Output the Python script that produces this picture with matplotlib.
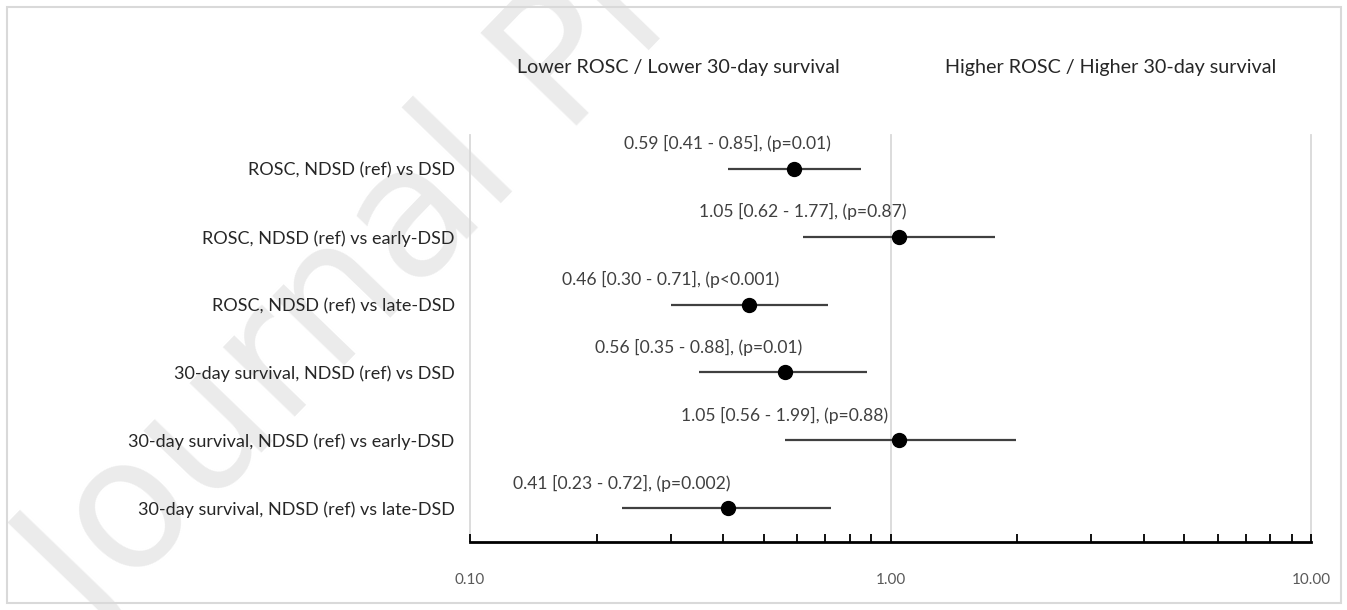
import matplotlib
matplotlib.use('Agg')
import matplotlib.pyplot as plt
from matplotlib.patches import Rectangle

plt.rcParams['font.family'] = ['Lato', 'DejaVu Sans']

# forest plot data (odds ratios with 95% CI)
labels = ["ROSC, NDSD (ref) vs DSD",
          "ROSC, NDSD (ref) vs early-DSD",
          "ROSC, NDSD (ref) vs late-DSD",
          "30-day survival, NDSD (ref) vs DSD",
          "30-day survival, NDSD (ref) vs early-DSD",
          "30-day survival, NDSD (ref) vs late-DSD"]
odds = [0.59, 1.05, 0.46, 0.56, 1.05, 0.41]
lower = [0.41, 0.62, 0.30, 0.35, 0.56, 0.23]
upper = [0.85, 1.77, 0.71, 0.88, 1.99, 0.72]
pvals = ["p=0.01", "p=0.87", "p<0.001", "p=0.01", "p=0.88", "p=0.002"]
xticks = [0.1, 1, 10]
xticklabels = ["0.10", "1.00", "10.00"]

fig = plt.figure(figsize=(13.47, 6.1), dpi=100)
fig.patch.set_facecolor('white')

# watermark, behind everything
fig.text(0.07, -0.04, "Journal Pre-proof", fontsize=130, color='#ebebeb',
         rotation=46, rotation_mode='anchor', ha='left', va='baseline',
         family='DejaVu Sans', zorder=-5)

# frame round the figure
fig.patches.append(Rectangle((7 / 1347, 7 / 610), 1334 / 1347, 596 / 610,
                             transform=fig.transFigure, fill=False,
                             edgecolor='#d9d9d9', linewidth=1.5, zorder=-4))

ax = fig.add_axes([470 / 1347, 1 - 542 / 610, 841 / 1347, 407 / 610])
ax.set_facecolor('none')
ax.set_xscale('log')
ax.set_xlim(0.1, 10)
ax.set_ylim(6.5, 0.5)

ypos = list(range(1, len(labels) + 1))
for xv in xticks:
    ax.axvline(xv, color='#d9d9d9', linewidth=1.3, zorder=1, clip_on=False)

for i in range(len(labels)):
    ax.plot([lower[i], upper[i]], [ypos[i], ypos[i]], color='#404040',
            linewidth=1.6, zorder=2, solid_capstyle='butt')
    ax.plot(odds[i], ypos[i], 'o', color='black', markersize=10, zorder=3)
    txt = "%.2f [%.2f - %.2f], (%s)" % (odds[i], lower[i], upper[i], pvals[i])
    ax.annotate(txt, (lower[i], ypos[i]), xytext=(0, 18),
                textcoords='offset points', ha='center', va='center',
                fontsize=12.6, color='#404040')

for s in ['top', 'left', 'right']:
    ax.spines[s].set_visible(False)
ax.spines['bottom'].set_linewidth(2)
ax.spines['bottom'].set_color('black')

ax.set_xticks(xticks)
ax.set_xticklabels(xticklabels)
ax.tick_params(axis='x', which='major', direction='in', length=6, width=1.3,
               pad=22, labelsize=11, labelcolor='#595959')
ax.tick_params(axis='x', which='minor', direction='in', length=6, width=1.3)
ax.xaxis.set_minor_formatter(matplotlib.ticker.NullFormatter())

ax.set_yticks(ypos)
ax.set_yticklabels(labels)
ax.tick_params(axis='y', length=0, pad=11, labelsize=13, labelcolor='#262626')

fig.text(678 / 1347, 1 - 68 / 610, "Lower ROSC / Lower 30-day survival",
         ha='center', va='center', fontsize=14.2, color='#262626')
fig.text(1111 / 1347, 1 - 68 / 610, "Higher ROSC / Higher 30-day survival",
         ha='center', va='center', fontsize=14.2, color='#262626')

fig.savefig('out.png', dpi=100)
